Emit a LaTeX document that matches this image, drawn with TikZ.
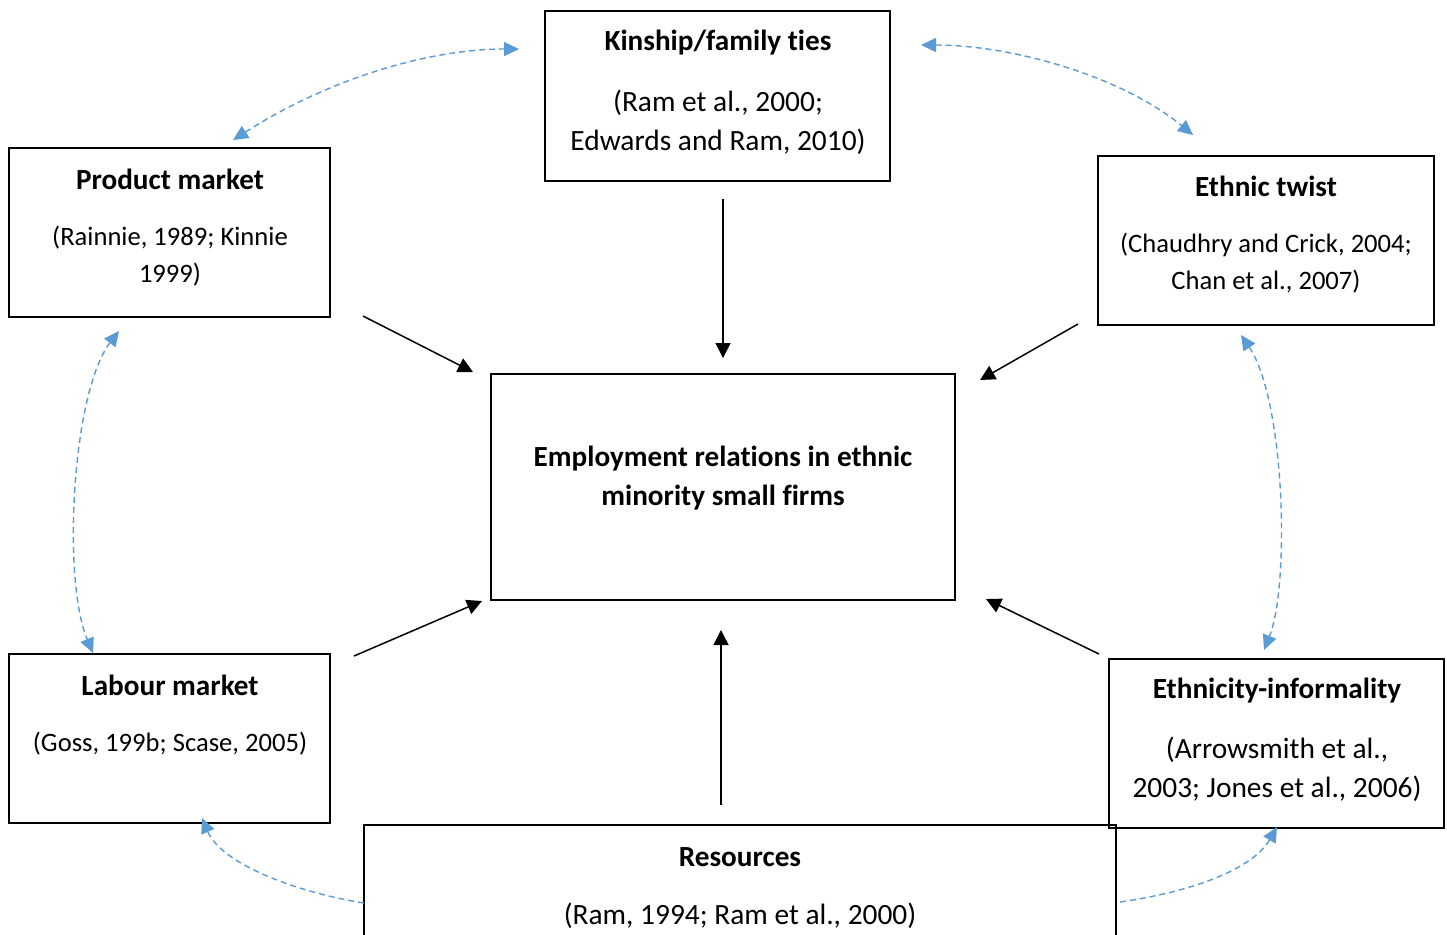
\documentclass[tikz,border=0pt]{standalone}
\usepackage{fontspec}
\setmainfont{Carlito}[Ligatures={NoCommon}]
\usetikzlibrary{arrows.meta}
\definecolor{linkblue}{HTML}{5B9BD5}
\tikzset{
  box/.style={draw=black, line width=1.3pt, inner sep=0pt},
  head/.style={font=\fontsize{14.6}{19.5}\selectfont\bfseries, align=center, inner sep=0pt},
  cite/.style={font=\fontsize{13.3}{18.5}\selectfont, align=center, inner sep=0pt},
  bigcite/.style={font=\fontsize{14.7}{19.5}\selectfont, align=center, inner sep=0pt},
  influence/.style={black, line width=0.75pt, -{Triangle[length=7.5pt,width=7.5pt]}},
  linkage/.style={linkblue, line width=0.7pt, dash pattern=on 3pt off 2pt,
    {Triangle[length=7.5pt,width=7pt]}-{Triangle[length=7.5pt,width=7pt]}},
  oneway/.style={linkblue, line width=0.7pt, dash pattern=on 3pt off 2pt,
    -{Triangle[length=7.5pt,width=7pt]}}
}
\begin{document}
\begin{tikzpicture}[x=0.5pt, y=-0.5pt]
\useasboundingbox (0,0) rectangle (1447,934);
\clip (0,0) rectangle (1447,934);
\fill[white] (0,0) rectangle (1447,934);

% boxes
\node[box, minimum width=172.5pt, minimum height=85pt] (kin) at (717.5,96) {};
\node[box, minimum width=160.5pt, minimum height=84.5pt] (pm) at (169.5,232.5) {};
\node[box, minimum width=168pt, minimum height=84.5pt] (et) at (1266,240.5) {};
\node[box, minimum width=232pt, minimum height=113pt] (core) at (723,487) {};
\node[box, minimum width=160.5pt, minimum height=84.5pt] (lm) at (169.5,738.5) {};
\node[box, minimum width=376pt, minimum height=87.5pt] (res) at (740,912.5) {};
\node[box, minimum width=167.5pt, minimum height=84.5pt] (ei) at (1276.5,743.5) {};

% texts
\node[head] (kinh) at (718,43) {Kinship/family ties};
\node[bigcite] (kinc) at (718,122) {(Ram et al., 2000;\\Edwards and Ram, 2010)};
\node[head] (pmh) at (170,179) {Product market};
\node[cite] (pmc) at (170,256) {(Rainnie, 1989; Kinnie\\1999)};
\node[head] (eth) at (1266,186) {Ethnic twist};
\node[cite] (etc) at (1266,263) {(Chaudhry and Crick, 2004;\\Chan et al., 2007)};
\node[head] (coret) at (723,478) {Employment relations in ethnic\\minority small firms};
\node[head] (lmh) at (170,685) {Labour market};
\node[cite] (lmc) at (170,744) {(Goss, 199b; Scase, 2005)};
\node[head] (eih) at (1277,691) {Ethnicity-informality};
\node[bigcite] (eic) at (1277,769) {(Arrowsmith et al.,\\2003; Jones et al., 2006)};
\node[head] (resh) at (740,857) {Resources};
\node[bigcite] (resc) at (740,916) {(Ram, 1994; Ram et al., 2000)};

% connector end points
\coordinate (kinA) at (723,199);  \coordinate (kinB) at (723,358);
\coordinate (pmA) at (363,316);   \coordinate (pmB) at (473,372);
\coordinate (etA) at (1078,324);  \coordinate (etB) at (980,380);
\coordinate (lmA) at (354,656);   \coordinate (lmB) at (482,601);
\coordinate (eiA) at (1099,654);  \coordinate (eiB) at (986,599);
\coordinate (resA) at (721,805);  \coordinate (resB) at (721,630);

\coordinate (l1a) at (233,140);   \coordinate (l1b) at (519,49);
\coordinate (l2a) at (921,45);    \coordinate (l2b) at (1193,135);
\coordinate (l3a) at (119,331);   \coordinate (l3b) at (93,653);
\coordinate (l4a) at (1241,335);  \coordinate (l4b) at (1264,650);
\coordinate (l5a) at (364,903);   \coordinate (l5b) at (202,818);
\coordinate (l6a) at (1120,902);  \coordinate (l6b) at (1277,827);

% influences on the core box
\draw[influence] (kinA) -- (kinB);
\draw[influence] (pmA) -- (pmB);
\draw[influence] (etA) -- (etB);
\draw[influence] (lmA) -- (lmB);
\draw[influence] (eiA) -- (eiB);
\draw[influence] (resA) -- (resB);

% links between the surrounding factors
\draw[linkage] (l1a) .. controls (330,78) and (430,49) .. (l1b);
\draw[linkage] (l2a) .. controls (1010,45) and (1120,75) .. (l2b);
\draw[linkage] (l3a) .. controls (72,392) and (62,580) .. (l3b);
\draw[linkage] (l4a) .. controls (1285,400) and (1290,585) .. (l4b);
\draw[oneway] (l5a) .. controls (300,893) and (222,865) .. (l5b);
\draw[oneway] (l6a) .. controls (1190,892) and (1252,870) .. (l6b);
\end{tikzpicture}
\end{document}
